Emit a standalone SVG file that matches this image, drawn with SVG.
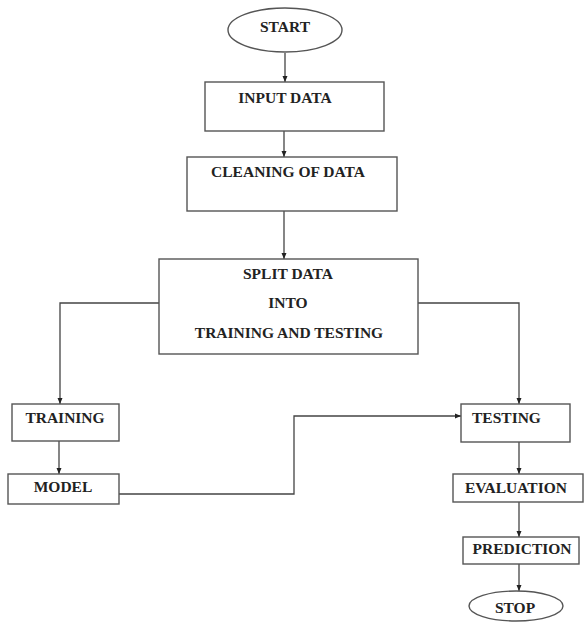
<svg xmlns="http://www.w3.org/2000/svg" width="584" height="622" viewBox="0 0 584 622">
<style>
.box{fill:#fff;stroke:#555;stroke-width:1.4}
.t{font-family:"Liberation Serif","Times New Roman",serif;font-weight:bold;font-size:15.5px;fill:#222}
.c{fill:none;stroke:#444;stroke-width:1.3;marker-end:url(#ah)}
</style>
<defs>
<marker id="ah" viewBox="0 0 6 6" refX="6" refY="3" markerWidth="6" markerHeight="6" markerUnits="userSpaceOnUse" orient="auto">
<path d="M0,0.5 L6,3 L0,5.5 Z" fill="#222"/>
</marker>
</defs>
<rect width="584" height="622" fill="#fff"/>
<g id="connectors">
<path class="c" d="M285,53 V82"/>
<path class="c" d="M284,131 V157"/>
<path class="c" d="M284,211 V259"/>
<path class="c" d="M159,303 H60 V404"/>
<path class="c" d="M418,303 H519 V404"/>
<path class="c" d="M59,441 V474"/>
<path class="c" d="M119,494 H294 V416 H461"/>
<path class="c" d="M519,442 V474"/>
<path class="c" d="M519,502 V537"/>
<path class="c" d="M519,564 V591"/>
</g>
<g id="start"><ellipse class="box" cx="285" cy="30" rx="57" ry="22"/><text class="t" x="285" y="32" text-anchor="middle">START</text></g>
<g id="input"><rect class="box" x="205" y="82" width="179" height="49"/><text class="t" x="285" y="103" text-anchor="middle">INPUT DATA</text></g>
<g id="cleaning"><rect class="box" x="187" y="157" width="210" height="54"/><text class="t" x="288" y="177" text-anchor="middle">CLEANING OF DATA</text></g>
<g id="split"><rect class="box" x="159" y="259" width="259" height="95"/>
<text class="t" x="288" y="279" text-anchor="middle">SPLIT DATA</text>
<text class="t" x="288" y="308" text-anchor="middle">INTO</text>
<text class="t" x="289" y="338" text-anchor="middle">TRAINING AND TESTING</text></g>
<g id="training"><rect class="box" x="12" y="404" width="107" height="37"/><text class="t" x="65" y="423" text-anchor="middle">TRAINING</text></g>
<g id="model"><rect class="box" x="8" y="474" width="111" height="30"/><text class="t" x="63" y="492" text-anchor="middle">MODEL</text></g>
<g id="testing"><rect class="box" x="461" y="404" width="109" height="38"/><text class="t" x="472" y="423">TESTING</text></g>
<g id="evaluation"><rect class="box" x="453" y="474" width="130" height="28"/><text class="t" x="516" y="493" text-anchor="middle">EVALUATION</text></g>
<g id="prediction"><rect class="box" x="463" y="537" width="116" height="27"/><text class="t" x="522" y="554" text-anchor="middle">PREDICTION</text></g>
<g id="stop"><ellipse class="box" cx="516" cy="606" rx="47" ry="15"/><text class="t" x="515" y="613" text-anchor="middle">STOP</text></g>
</svg>
